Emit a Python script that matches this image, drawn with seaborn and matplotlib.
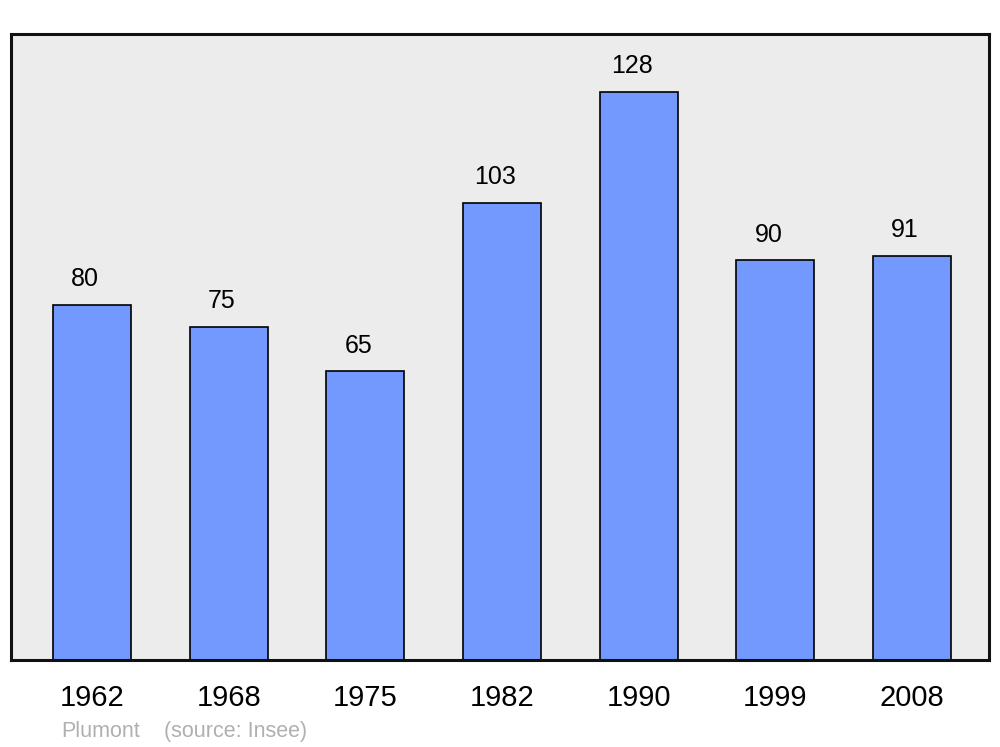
import matplotlib
matplotlib.use("Agg")
import matplotlib.pyplot as plt
import seaborn as sns
import pandas as pd

years = ["1962", "1968", "1975", "1982", "1990", "1999", "2008"]
population = [80, 75, 65, 103, 128, 90, 91]

df = pd.DataFrame({"year": years, "pop": population})

sns.set_style("white")
plt.rcParams['font.family'] = ['Liberation Sans', 'DejaVu Sans']
plt.rcParams['text.color'] = 'black'
plt.rcParams['xtick.color'] = 'black'

fig = plt.figure(figsize=(10, 7.47), dpi=100)
ax = fig.add_axes([0.011, 1 - 660 / 747, 0.978, 626 / 747])

sns.barplot(data=df, x="year", y="pop", color="#7399ff", saturation=1,
            width=0.57, edgecolor="black", linewidth=1.2, ax=ax)

ax.set_facecolor("#ececec")
ax.set_xlim(-0.593, 6.563)
ax.set_ylim(0, 141)
ax.set_xlabel("")
ax.set_ylabel("")
ax.set_yticks([])
ax.tick_params(axis="x", length=0, labelsize=21, pad=17, labelcolor="black")
for s in ax.spines.values():
    s.set_visible(True)
    s.set_linewidth(2.2)
    s.set_color("#111111")

# value labels sit a little left of bar centre, as in the original
for p in ax.patches:
    ax.annotate("{:.0f}".format(p.get_height()),
                (p.get_x() + p.get_width() / 2, p.get_height()),
                xytext=(-5, 10), textcoords="offset points",
                ha="center", va="bottom", fontsize=18, color="black")

fig.text(0.061, 1 - 737 / 747, "Plumont", color="#b0b0b0", fontsize=15.5, va="baseline")
fig.text(0.164, 1 - 737 / 747, "(source: Insee)", color="#b0b0b0", fontsize=15.5, va="baseline")

fig.savefig("out.png", dpi=100)
